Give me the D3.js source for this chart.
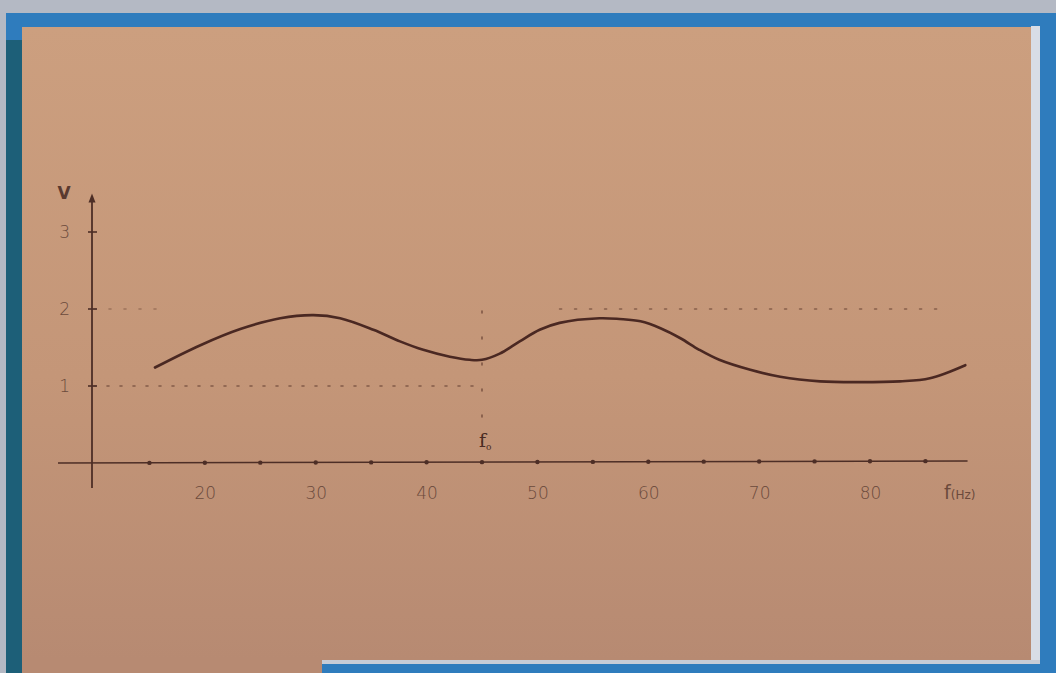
<!DOCTYPE html>
<html>
<head>
<meta charset="utf-8">
<script src="https://cdn.jsdelivr.net/npm/d3@7/dist/d3.min.js"></script>
<style>
  html, body { margin: 0; padding: 0; background: #b3b8c3; }
  svg { display: block; }
</style>
</head>
<body>
<svg id="chart" width="1056" height="673"></svg>
<script>
// Frequency response sample points: frequency (Hz) and voltage (V)
const freqs = [15.5, 19.6, 23.2, 26.8, 29.8, 32.2, 35.2, 37.6, 39.7, 42.1, 43.9, 45, 46.6, 48.4, 50.2, 52, 55.6, 57.4, 59.3, 61.1, 62.9, 64.6, 66.4, 69.2, 71.9, 75.5, 79.1, 82.7, 85.4, 88.6];
const volts = [1.24, 1.53, 1.74, 1.88, 1.92, 1.88, 1.73, 1.58, 1.47, 1.38, 1.34, 1.34, 1.42, 1.58, 1.73, 1.82, 1.88, 1.87, 1.84, 1.75, 1.62, 1.47, 1.34, 1.21, 1.12, 1.06, 1.05, 1.06, 1.10, 1.27];

// Axis labels
const xTickLabels = [20, 30, 40, 50, 60, 70, 80];
const xTickDots   = [15, 20, 25, 30, 35, 40, 45, 50, 55, 60, 65, 70, 75, 80, 85];
const yTickLabels = [1, 2, 3];

// Reference guides
const resonanceFreq = 45;
const lowLevel = 1;
const highLevel = 2;

const svg = d3.select("#chart");
const W = 1056, H = 673;

// Paper background with blue frame
const defs = svg.append("defs");
const grad = defs.append("linearGradient").attr("id", "paper")
  .attr("x1", 0).attr("y1", 0).attr("x2", 0).attr("y2", 1);
grad.append("stop").attr("offset", "0%").attr("stop-color", "#cc9f7f");
grad.append("stop").attr("offset", "55%").attr("stop-color", "#c49678");
grad.append("stop").attr("offset", "100%").attr("stop-color", "#b78a72");

svg.append("rect").attr("x", 0).attr("y", 0).attr("width", W).attr("height", H).attr("fill", "#b4b9c4");
svg.append("rect").attr("x", 6).attr("y", 13).attr("width", W - 6).attr("height", H - 13).attr("fill", "#2f7cbd");
svg.append("rect").attr("x", 6).attr("y", 40).attr("width", 16).attr("height", H - 40).attr("fill", "#1d5f78");
svg.append("rect").attr("x", 1031).attr("y", 26).attr("width", 9).attr("height", 634).attr("fill", "#d8dde6");
svg.append("rect").attr("x", 22).attr("y", 660).attr("width", 1018).attr("height", 4).attr("fill", "#c7ccd6");
svg.append("rect").attr("x", 22).attr("y", 27).attr("width", 1009).attr("height", 633).attr("fill", "url(#paper)");
svg.append("rect").attr("x", 22).attr("y", 660).attr("width", 300).attr("height", 13).attr("fill", "#b78a72");

// Scales
const x = d3.scaleLinear().domain([10, 80]).range([94, 870]);
const y = d3.scaleLinear().domain([0, 3]).range([463, 232]);

const ink = "#4d2e26";
const textInk = "#6b4a3c";
const g = svg.append("g");

// Dotted guide lines
const guide = (x1, y1, x2, y2, dash, op) => g.append("line")
  .attr("x1", x1).attr("y1", y1).attr("x2", x2).attr("y2", y2)
  .attr("stroke", "#6e4838").attr("stroke-width", 1.6)
  .attr("stroke-dasharray", dash).attr("stroke-linecap", "round")
  .attr("opacity", op);

guide(x(10), y(lowLevel), x(resonanceFreq), y(lowLevel), "2,11", 0.75);
guide(x(10), y(highLevel), x(16), y(highLevel), "2,13", 0.45);
guide(x(52), y(highLevel), x(86.5), y(highLevel), "2,13", 0.7);
guide(x(resonanceFreq), y(highLevel) + 2, x(resonanceFreq), y(0), "2,24", 0.8);

// X axis
const xAxis = d3.axisBottom(x).tickValues(xTickLabels).tickSize(0).tickPadding(24)
  .tickFormat(d3.format("d"));
const xg = g.append("g").attr("transform", `translate(0,${y(0)})`).call(xAxis);
xg.select(".domain").remove();
xg.selectAll("text").attr("fill", textInk).attr("font-family", "DejaVu Sans")
  .attr("font-size", 17).attr("font-weight", 300);
g.append("line").attr("x1", 58).attr("x2", x(88.8)).attr("y1", y(0)).attr("y2", y(0) - 2)
  .attr("stroke", ink).attr("stroke-width", 1.6);
g.selectAll(".xdot").data(xTickDots).join("circle").attr("class", "xdot")
  .attr("cx", d => x(d)).attr("cy", d => y(0) - (d - 10) * 0.025).attr("r", 2.2).attr("fill", ink);

// Y axis
const yAxis = d3.axisLeft(y).tickValues(yTickLabels).tickSize(0).tickPadding(22)
  .tickFormat(d3.format("d"));
const yg = g.append("g").attr("transform", `translate(${x(10) - 2},0)`).call(yAxis);
yg.select(".domain").remove();
yg.selectAll("text").attr("fill", textInk).attr("font-family", "DejaVu Sans")
  .attr("font-size", 17).attr("font-weight", 300);
g.append("line").attr("x1", x(10) - 2).attr("x2", x(10) - 2).attr("y1", y(3.42)).attr("y2", 488)
  .attr("stroke", ink).attr("stroke-width", 1.8);
g.append("path")
  .attr("d", `M${x(10) - 2},${y(3.5)} l-3.5,9 l7,0 Z`)
  .attr("fill", ink);
g.selectAll(".ytick").data(yTickLabels).join("line").attr("class", "ytick")
  .attr("x1", x(10) - 6).attr("x2", x(10) + 3).attr("y1", d => y(d)).attr("y2", d => y(d))
  .attr("stroke", ink).attr("stroke-width", 1.6);

// Axis titles
g.append("text").attr("x", 64).attr("y", 199).attr("text-anchor", "middle")
  .attr("font-family", "DejaVu Sans").attr("font-size", 17).attr("font-weight", "bold")
  .attr("fill", "#5a3a30").text("V");
const fl = g.append("text").attr("x", 944).attr("y", 499)
  .attr("font-family", "DejaVu Sans").attr("font-size", 15).attr("fill", textInk);
fl.append("tspan").attr("font-size", 19).text("f");
fl.append("tspan").attr("font-size", 12).text("(Hz)");

// Resonance label
const f0 = g.append("text").attr("x", x(resonanceFreq) - 3).attr("y", 447)
  .attr("font-family", "DejaVu Serif").attr("fill", "#4a2c24");
f0.append("tspan").attr("font-size", 19).text("f");
f0.append("tspan").attr("font-size", 9).attr("dy", 3).text("o");

// Response curve
const line = d3.line().x((d, i) => x(freqs[i])).y(d => y(d)).curve(d3.curveCatmullRom.alpha(0.5));
g.append("path").datum(volts).attr("d", line)
  .attr("fill", "none").attr("stroke", "#4a2822").attr("stroke-width", 2.6)
  .attr("stroke-linecap", "round");
</script>
</body>
</html>
